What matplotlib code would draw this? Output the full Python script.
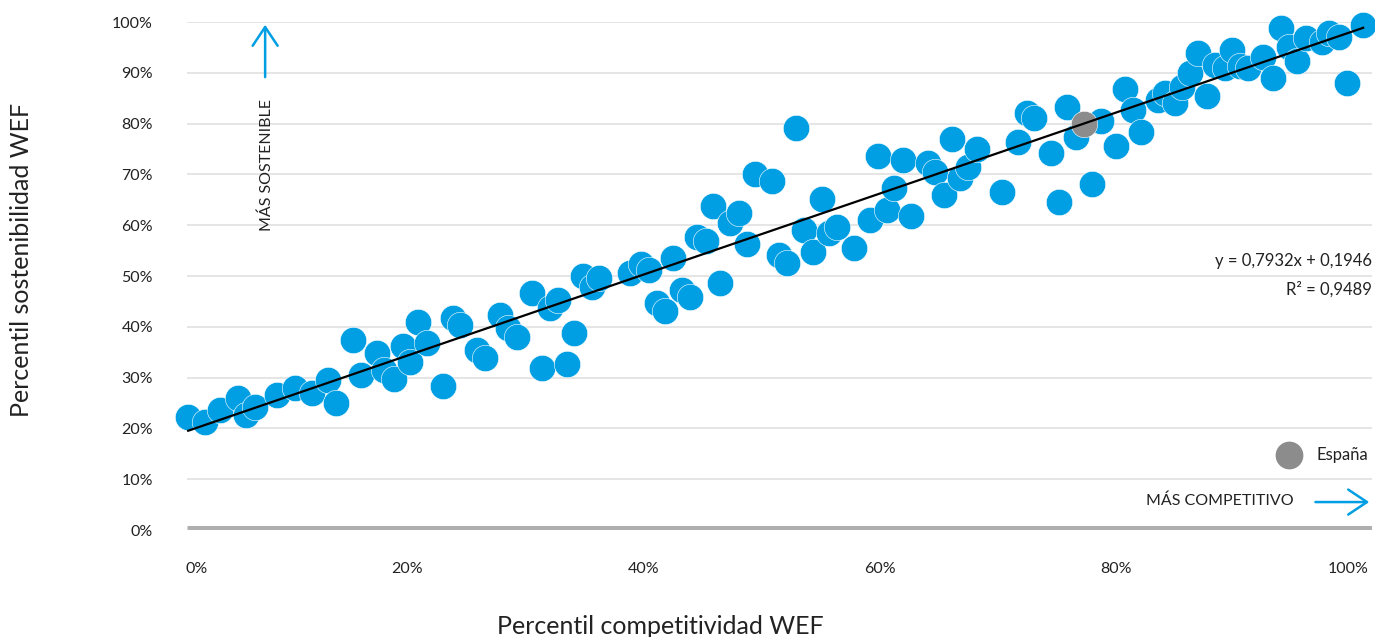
import numpy as np
import matplotlib.pyplot as plt

plt.rcParams['font.family'] = ['Lato', 'DejaVu Sans']

# Percentil competitividad (x) y sostenibilidad (y) WEF, en %
competitividad = [0.1, 1.5, 2.8, 4.3, 5.0, 5.8, 7.7, 9.2, 10.6, 12.0, 12.7, 14.1, 14.8, 16.2,
                  16.8, 17.6, 18.4, 19.0, 19.7, 20.4, 21.8, 22.6, 23.2, 24.7, 25.4, 26.6,
                  27.3, 28.1, 29.4, 30.2, 30.9, 31.6, 32.3, 32.9, 33.7, 34.5, 35.1, 37.7,
                  38.6, 39.3, 40.0, 40.7, 41.4, 42.1, 42.8, 43.4, 44.2, 44.8, 45.4, 46.2,
                  47.0, 47.7, 48.3, 49.8, 50.4, 51.1, 51.8, 52.5, 53.3, 54.0, 54.6, 55.3,
                  56.8, 58.1, 58.8, 59.6, 60.2, 60.9, 61.6, 63.1, 63.7, 64.4, 65.1, 65.8,
                  66.5, 67.2, 69.4, 70.7, 71.5, 72.1, 73.5, 74.2, 74.9, 75.7, 77.0, 77.8,
                  79.1, 79.8, 80.5, 81.2, 82.6, 83.2, 84.1, 84.7, 85.4, 86.0, 86.8, 87.5,
                  88.3, 88.9, 89.6, 90.3, 91.6, 92.4, 93.1, 93.8, 94.5, 95.2, 96.6, 97.2,
                  98.0, 98.7, 100.1]
sostenibilidad = [22.2, 21.3, 23.6, 26.0, 22.6, 24.2, 26.6, 28.0, 27.0, 29.5, 25.0, 37.4, 30.5,
                  34.8, 31.5, 29.7, 36.2, 33.1, 40.9, 36.8, 28.3, 41.7, 40.4, 35.4, 33.9,
                  42.3, 39.8, 38.0, 46.7, 31.9, 43.7, 45.3, 32.7, 38.8, 50.0, 47.8, 49.6,
                  50.6, 52.4, 51.2, 44.7, 43.1, 53.5, 47.2, 45.9, 57.7, 56.9, 63.8, 48.6,
                  60.4, 62.4, 56.3, 70.1, 68.7, 54.1, 52.6, 79.1, 59.1, 54.7, 65.2, 58.5,
                  59.6, 55.5, 61.0, 73.6, 63.0, 67.3, 72.8, 61.8, 72.2, 70.5, 65.9, 77.0,
                  69.3, 71.5, 75.0, 66.5, 76.4, 82.1, 81.1, 74.2, 64.6, 83.3, 77.4, 68.1,
                  80.5, 75.6, 86.8, 82.7, 78.3, 84.6, 86.0, 84.1, 87.2, 90.0, 93.9, 85.4,
                  91.5, 90.9, 94.5, 91.3, 90.9, 93.1, 89.0, 98.8, 95.1, 92.3, 96.9, 96.1,
                  97.8, 97.0, 88.0, 99.4]

# España
espana_x, espana_y = 76.3, 79.9

# Recta de regresión (Excel)
pendiente, ordenada = 0.7932, 0.1946
r2 = 0.9489

y_ticks = [0, 10, 20, 30, 40, 50, 60, 70, 80, 90, 100]
x_tick_labels = ['0%', '20%', '40%', '60%', '80%', '100%']
x_tick_pos = [0.85, 18.7, 38.9, 59.0, 79.1, 98.8]

azul = '#009fe3'
gris = '#8c8c8c'
texto = '#222222'

x = np.array(competitividad) / 100
y = np.array(sostenibilidad) / 100

fig = plt.figure(figsize=(13.75, 6.37), dpi=100)
ax = fig.add_axes([187 / 1375, 1 - 530 / 637, (1372 - 187) / 1375, (530 - 22) / 637])

ax.set_xlim(0, 1.0085)
ax.set_ylim(0, 1)

# rejilla horizontal
for t in y_ticks[1:]:
    ax.axhline(t / 100, color='#e0e0e0', linewidth=1.2, zorder=0)
ax.axhline(0, color='#afafaf', linewidth=6.5, zorder=0, solid_capstyle='butt')

ax.scatter(x, y, s=360, color=azul, edgecolors='white', linewidths=0.4, zorder=2, clip_on=False)
ax.scatter([espana_x / 100], [espana_y / 100], s=360, color=gris, edgecolors='white',
           linewidths=0.4, zorder=3, clip_on=False)

xs = np.array([x.min(), x.max()])
ax.plot(xs, pendiente * xs + ordenada, color='black', linewidth=1.6, zorder=4)

ax.set_yticks([t / 100 for t in y_ticks])
ax.set_yticklabels([f'{t}%' for t in y_ticks])
ax.set_xticks([p / 100 for p in x_tick_pos])
ax.set_xticklabels(x_tick_labels)
ax.tick_params(axis='y', length=0, pad=24.5, labelsize=11.5, labelcolor=texto)
ax.tick_params(axis='x', length=0, pad=23, labelsize=11.5, labelcolor=texto)
for s in ax.spines.values():
    s.set_visible(False)

# títulos de los ejes
fig.text(660 / 1375, 1 - 626 / 637, 'Percentil competitividad WEF', ha='center', va='center',
         fontsize=18, color=texto)
fig.text(22 / 1375, 1 - 260 / 637, 'Percentil sostenibilidad WEF', ha='center', va='center',
         rotation=90, fontsize=18, color=texto)

# ecuación y R²
ax.text(1.0085, 0.529, f'y = {pendiente:.4f}x + {ordenada:.4f}'.replace('.', ','),
        ha='right', va='center', fontsize=12, color=texto)
ax.text(1.0085, 0.474, f'R² = {r2:.4f}'.replace('.', ','),
        ha='right', va='center', fontsize=12, color=texto)

# leyenda España
ax.scatter([0.938], [0.148], s=360, color=gris, clip_on=False, zorder=3)
ax.text(0.961, 0.148, 'España', ha='left', va='center', fontsize=12, color=texto)

# flechas de dirección
ax.annotate('', xy=(0.0665, 1.0), xytext=(0.0665, 0.886),
            arrowprops=dict(arrowstyle='->,head_length=0.45,head_width=0.3', color=azul,
                            lw=1.8, mutation_scale=30))
ax.text(0.0675, 0.718, 'MÁS SOSTENIBLE', rotation=90, ha='center', va='center',
        fontsize=11.5, color=texto)
ax.annotate('', xy=(1.0085, 0.055), xytext=(0.958, 0.055),
            arrowprops=dict(arrowstyle='->,head_length=0.45,head_width=0.3', color=azul,
                            lw=1.8, mutation_scale=30))
ax.text(0.942, 0.058, 'MÁS COMPETITIVO', ha='right', va='center',
        fontsize=11.5, color=texto)

fig.savefig('out.png', dpi=100)
